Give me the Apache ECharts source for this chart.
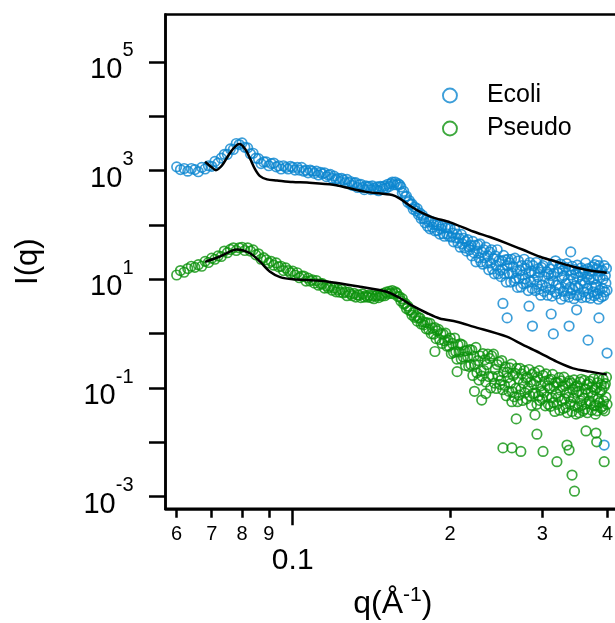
<!DOCTYPE html>
<html><head><meta charset="utf-8">
<script src="https://cdn.jsdelivr.net/npm/echarts@6/dist/echarts.min.js"></script>
<style>html,body{margin:0;padding:0;background:#fff}#c{width:615px;height:623px}</style>
</head><body><div id="c"></div>
<script>
// ---- data (q in 1/Å, I(q) intensities) ----
const q = [
0.060,0.061,0.062,0.063,0.064,0.065,0.066,0.067,0.068,0.069,
0.070,0.071,0.072,0.073,0.074,0.075,0.076,0.077,0.078,0.079,
0.080,0.081,0.082,0.083,0.084,0.085,0.086,0.087,0.088,0.089,
0.090,0.091,0.092,0.093,0.094,0.095,0.096,0.097,0.098,0.099,
0.100,0.101,0.102,0.103,0.104,0.105,0.106,0.107,0.108,0.109,
0.110,0.111,0.112,0.113,0.114,0.115,0.116,0.117,0.118,0.119,
0.120,0.121,0.122,0.123,0.124,0.125,0.126,0.127,0.128,0.129,
0.130,0.131,0.132,0.133,0.134,0.135,0.136,0.137,0.138,0.139,
0.140,0.141,0.142,0.143,0.144,0.145,0.146,0.147,0.148,0.149,
0.150,0.151,0.152,0.153,0.154,0.155,0.156,0.157,0.158,0.159,
0.160,0.161,0.162,0.163,0.164,0.165,0.166,0.167,0.168,0.169,
0.170,0.171,0.172,0.173,0.174,0.175,0.176,0.177,0.178,0.179,
0.180,0.181,0.182,0.183,0.184,0.185,0.186,0.187,0.188,0.189,
0.190,0.191,0.192,0.193,0.194,0.195,0.196,0.197,0.198,0.199,
0.200,0.201,0.202,0.203,0.204,0.205,0.206,0.207,0.208,0.209,
0.210,0.211,0.212,0.213,0.214,0.215,0.216,0.217,0.218,0.219,
0.220,0.221,0.222,0.223,0.224,0.225,0.226,0.227,0.228,0.229,
0.230,0.231,0.232,0.233,0.234,0.235,0.236,0.237,0.238,0.239,
0.240,0.241,0.242,0.243,0.244,0.245,0.246,0.247,0.248,0.249,
0.250,0.251,0.252,0.253,0.254,0.255,0.256,0.257,0.258,0.259,
0.260,0.261,0.262,0.263,0.264,0.265,0.266,0.267,0.268,0.269,
0.270,0.271,0.272,0.273,0.274,0.275,0.276,0.277,0.278,0.279,
0.280,0.281,0.282,0.283,0.284,0.285,0.286,0.287,0.288,0.289,
0.290,0.291,0.292,0.293,0.294,0.295,0.296,0.297,0.298,0.299,
0.300,0.301,0.302,0.303,0.304,0.305,0.306,0.307,0.308,0.309,
0.310,0.311,0.312,0.313,0.314,0.315,0.316,0.317,0.318,0.319,
0.320,0.321,0.322,0.323,0.324,0.325,0.326,0.327,0.328,0.329,
0.330,0.331,0.332,0.333,0.334,0.335,0.336,0.337,0.338,0.339,
0.340,0.341,0.342,0.343,0.344,0.345,0.346,0.347,0.348,0.349,
0.350,0.351,0.352,0.353,0.354,0.355,0.356,0.357,0.358,0.359,
0.360,0.361,0.362,0.363,0.364,0.365,0.366,0.367,0.368,0.369,
0.370,0.371,0.372,0.373,0.374,0.375,0.376,0.377,0.378,0.379,
0.380,0.381,0.382,0.383,0.384,0.385,0.386,0.387,0.388,0.389,
0.390,0.391,0.392,0.393,0.394,0.395,0.396,0.397,0.398,0.399
];
const ecoli = [
1175,1047,1096,977,1096,1047,955,1148,1072,1230,
1202,1479,1380,1698,1995,1995,2512,2455,3162,3020,
3236,2692,2630,2042,2089,1698,1660,1349,1445,1445,
1230,1349,1380,1175,1230,1072,1230,1148,1072,1202,
1148,1023,1148,1023,1148,977,1023,912,1023,977,
891,977,832,933,871,912,776,832,851,724,
794,692,724,631,724,676,603,692,603,631,
537,589,603,490,550,562,490,447,525,501,
513,447,525,479,447,501,427,513,501,468,
525,479,562,513,575,617,550,617,550,575,
550,501,389,417,331,339,263,282,240,245,
195,214,182,200,155,166,132,151,132,110,
129,95,115,85,117,91,102,78,102,79,
98,68,85,95,69,62,89,69,89,62,
87,60,71,49,84,58,68,47,57,39,
67,45,57,38,50,33,54,40,35,42,
27,50,31,42,21,33,43,25,45,21,
32,19,35,25,39,20,27,15,32,20,
35,15.5,24,12.6,27,17.8,35,12.6,22,14.5,
11.2,21.9,15.1,27.5,12.6,22.9,8.9,17.8,23.4,12.9,
20,8.9,23.4,12.9,17,9.3,24.5,10.5,14.1,7.1,
21.9,10.5,14.5,7.2,17.8,12,8.3,23.4,10.2,15.8,
8.5,18.2,6.2,13.2,20.4,9.1,14.1,6.8,17.8,9.8,
13.2,6.2,20.4,8.1,11,15.8,6.6,13.5,5.1,16.6,
7.9,17.8,6,11.2,20,7.1,13.8,5.1,12.3,8.7,
15.5,6.5,11.7,4.9,18.6,9.3,12.9,5.9,21.9,7.8,
5.4,13.5,7.9,15.8,6.8,19.1,4.3,10.7,14.5,6,
11.7,4.9,16.6,8.3,19.5,6.2,9.8,4.7,14.8,7.1,
5.5,12,17.4,6.5,10.2,4.4,15.1,7.6,12.9,5.1,
18.2,6.9,11,5.1,13.8,8.1,16.2,4.6,9.5,12.9,
5.9,14.8,8.5,20,4.7,11.2,6.8,15.8,5.4,10,
12.6,4.5,14.1,7.4,17,5.9,10,5,18.6,7.1,
7.9,15.8,5.4,11.7,4.3,17.8,6.3,10.7,14.1,4.7,
14.8,6.8,10,5,17.8,5.9,11.7,8.5,15.8,6.3
];
const pseudo = [
12,14.5,13.5,15.8,17.4,16.6,18.6,17.4,21.4,20.4,
24.5,23.4,26.9,26.3,33.1,30.9,35.5,38,33.9,38,
38.9,33.9,38,33.1,34.7,28.2,29.5,23.4,25.1,22.9,
20,21.4,18.2,20,17,17.4,14.5,16.2,14.5,13.2,
14.1,12,13.2,10.7,11.5,11.5,9.3,10.5,9.3,9.8,
8.5,9.5,7.8,8.3,8.3,6.9,7.6,6.9,7.4,6.3,
6.9,5.9,6.5,5.8,6.5,5.6,5.9,5,5.8,5.4,
5,5.5,4.7,5.2,5.1,4.6,5.4,4.7,5,4.7,
5.1,4.6,5,4.4,4.9,5.1,4.6,5.1,4.9,5.5,
5,5.8,5.4,6,5.5,6.2,5.4,5.9,5.6,4.8,
4.8,4,4.4,3.5,3.6,2.9,3.2,2.7,2.7,2.2,
2.45,2,2.14,1.7,1.95,1.95,1.51,1.66,1.45,1.62,
1.23,1.58,1.2,1.55,1,1.26,0.98,1.29,0.81,1.12,
1.2,0.78,1,0.66,0.98,0.74,1.02,0.59,0.76,0.59,
0.83,0.43,0.66,0.45,0.83,0.47,0.34,0.62,0.46,0.65,
0.34,0.62,0.37,0.48,0.26,0.49,0.38,0.25,0.51,0.27,
0.5,0.17,0.38,0.27,0.56,0.19,0.32,0.14,0.39,0.21,
0.166,0.43,0.21,0.33,0.129,0.27,0.42,0.162,0.35,0.1,
0.39,0.162,0.42,0.123,0.22,0.098,0.27,0.166,0.3,0.117,
0.138,0.32,0.093,0.195,0.112,0.245,0.072,0.195,0.155,0.087,
0.234,0.123,0.275,0.085,0.17,0.069,0.186,0.098,0.229,0.056,
0.148,0.074,0.229,0.095,0.182,0.059,0.123,0.209,0.081,0.151,
0.063,0.158,0.098,0.219,0.072,0.129,0.048,0.178,0.079,0.117,
0.195,0.081,0.135,0.05,0.158,0.071,0.209,0.059,0.11,0.087,
0.063,0.17,0.083,0.132,0.047,0.182,0.069,0.11,0.05,0.141,
0.1,0.046,0.145,0.066,0.178,0.054,0.107,0.037,0.126,0.079,
0.05,0.126,0.068,0.155,0.039,0.091,0.135,0.058,0.105,0.042,
0.158,0.063,0.11,0.044,0.081,0.035,0.123,0.068,0.135,0.05,
0.056,0.123,0.037,0.093,0.066,0.141,0.047,0.105,0.033,0.083,
0.11,0.044,0.087,0.035,0.129,0.058,0.145,0.048,0.076,0.038,
0.065,0.138,0.041,0.095,0.051,0.115,0.035,0.081,0.12,0.058,
0.132,0.052,0.083,0.039,0.105,0.071,0.148,0.047,0.093,0.033,
0.048,0.1,0.038,0.126,0.063,0.151,0.054,0.085,0.043,0.115,
0.091,0.046,0.145,0.058,0.107,0.038,0.12,0.068,0.158,0.05
];
// scattered outlying points
const ecoliExtraQ = [0.2523,0.257,0.283,0.2873,0.312,0.315,0.3376,0.349,0.367,0.385,0.399,0.394,0.340,0.382];
const ecoliExtraI = [3.6,1.95,3.2,1.38,2.3,0.99,1.38,2.75,0.76,1.95,0.44,0.0089,32,22];
const pseudoExtraQ = [0.2523,0.2625,0.273,0.293,0.301,0.320,0.3345,0.3376,0.342,0.3457,0.3637,0.380,0.394,0.2226,0.234,0.2675,0.2905,0.2062,0.187,0.2298,0.3812,0.3917,0.2624];
const pseudoExtraI = [0.0079,0.0079,0.0068,0.0141,0.0068,0.0044,0.0089,0.0072,0.0025,0.00126,0.0162,0.0148,0.0044,0.087,0.079,0.027,0.032,0.2,0.47,0.06,0.0102,0.041,0.056];
// model fits
const fitEcoliQ = [0.0680,0.0700,0.0713,0.0733,0.0752,0.0772,0.0790,0.0811,0.0829,0.0847,0.0866,0.0893,0.0933,0.1000,0.1065,0.1195,0.1380,0.1550,0.1600,0.1690,0.1760,0.1850,0.2000,0.2213,0.2382,0.2566,0.2756,0.2971,0.3196,0.3436,0.3700,0.3985];
const fitEcoliI = [1460,1150,1020,1260,1860,2630,3100,2510,1660,1070,794,692,661,617,603,550,407,355,309,214,170,138,112,76,60,46,35,26,21,17,14.5,13.2];
const fitPseudoQ = [0.0680,0.0726,0.0782,0.0829,0.0866,0.0905,0.0946,0.1001,0.1128,0.1345,0.1512,0.1604,0.1700,0.1804,0.1910,0.2058,0.2213,0.2566,0.2756,0.2971,0.3196,0.3436,0.3700,0.3985];
const fitPseudoI = [21,26.3,35.5,30.2,21.1,13.8,11,10,9.4,7.3,5.9,4.5,3.2,2.4,1.9,1.66,1.35,0.88,0.62,0.44,0.305,0.23,0.2,0.178];
// axes
const qRange = [0.05712, 0.4224];
const iRange = [5.98e-4, 7.48e5];
const xMinorTicks = [0.06,0.07,0.08,0.09,0.2,0.3,0.4];
const xMinorLabels = ['6','7','8','9','2','3','4'];
const xMajorTicks = [0.1];
const xMajorLabels = ['0.1'];
const yTickExp = [-3,-2,-1,0,1,2,3,4,5];
const yLabelExp = [-3,-1,1,3,5];
const seriesNames = ['Ecoli','Pseudo'];
const colors = ['#0b86d0','#0c920c'];

// ---- chart ----
const lg = Math.log10;
const FONT = '"Liberation Sans", Arial, sans-serif';
function pick(v, ticks, labels){
  let b = 0, d = Infinity;
  ticks.forEach((t,i)=>{ const e = Math.abs(lg(t)-v); if (e<d){d=e;b=i;} });
  return labels[b];
}
function pts(xs, ys){ return xs.map((x,i)=>[lg(x), lg(ys[i])]); }
const chart = echarts.init(document.getElementById('c'), null, {renderer:'canvas'});
const axisLineStyle = {color:'#000', width:2.5};
const scatterStyle = c => ({color:'rgba(0,0,0,0)', borderColor:c, borderWidth:1.7});
chart.setOption({
  animation:false,
  backgroundColor:'#fff',
  grid:{left:165.5, top:14.5, width:454.5, height:494.3, containLabel:false, outerBoundsMode:'none',
        show:true, borderColor:'#000', borderWidth:2.5, backgroundColor:'rgba(0,0,0,0)'},
  legend:{
    orient:'vertical', left:437, top:78, itemWidth:16, itemHeight:14, itemGap:8,
    textStyle:{fontSize:25, fontFamily:FONT, color:'#000', padding:[0,0,0,24], lineHeight:24},
    data: seriesNames.map((n,i)=>({name:n, icon:'circle', itemStyle:{color:'rgba(0,0,0,0)', borderColor:colors[i], borderWidth:1.9}}))
  },
  xAxis:[
    {type:'value', min:lg(qRange[0]), max:lg(qRange[1]), position:'bottom',
     axisLine:{show:true, onZero:false, lineStyle:axisLineStyle},
     axisTick:{show:true, customValues:xMinorTicks.map(lg), length:9, lineStyle:{color:'#000', width:2.5}},
     axisLabel:{customValues:xMinorTicks.map(lg), formatter:v=>pick(v,xMinorTicks,xMinorLabels), fontSize:20, fontFamily:FONT, color:'#000', margin:16},
     splitLine:{show:false}},
    {type:'value', min:lg(qRange[0]), max:lg(qRange[1]), position:'bottom',
     axisLine:{show:false, onZero:false},
     axisTick:{show:true, customValues:xMajorTicks.map(lg), length:16.5, lineStyle:{color:'#000', width:2.5}},
     axisLabel:{customValues:xMajorTicks.map(lg), formatter:v=>pick(v,xMajorTicks,xMajorLabels), fontSize:30, fontFamily:FONT, color:'#000', margin:37},
     splitLine:{show:false},
     name:'{a|q(Å}{s|-1}{a|)}', nameLocation:'middle', nameGap:76,
     nameTextStyle:{rich:{a:{fontSize:32, fontFamily:FONT, color:'#000'}, s:{fontSize:21, fontFamily:FONT, color:'#000', padding:[0,0,18,0]}}}}
  ],
  yAxis:{type:'value', min:lg(iRange[0]), max:lg(iRange[1]),
    axisLine:{show:true, onZero:false, lineStyle:axisLineStyle},
    axisTick:{show:true, customValues:yTickExp, length:16.5, lineStyle:{color:'#000', width:2.5}},
    axisLabel:{customValues:yLabelExp, margin:32, color:'#000',
      formatter:v=>'{b|10}{e|'+Math.round(v)+'}',
      rich:{b:{fontSize:29, fontFamily:FONT, color:'#000', padding:[16,0,0,0]}, e:{fontSize:20, fontFamily:FONT, color:'#000', padding:[0,0,22,0]}}},
    splitLine:{show:false},
    name:'I(q)', nameLocation:'middle', nameRotate:90, nameGap:122,
    nameTextStyle:{fontSize:31, fontFamily:FONT, color:'#000'}
  },
  series:[
    {name:seriesNames[0], type:'scatter', symbol:'circle', symbolSize:9.5, itemStyle:scatterStyle(colors[0]),
     data: pts(q, ecoli).concat(pts(ecoliExtraQ, ecoliExtraI))},
    {name:seriesNames[1], type:'scatter', symbol:'circle', symbolSize:9.5, itemStyle:scatterStyle(colors[1]),
     data: pts(q, pseudo).concat(pts(pseudoExtraQ, pseudoExtraI))},
    {name:'Ecoli fit', type:'line', showSymbol:false, smooth:0.3, lineStyle:{color:'#000', width:2.5}, data: pts(fitEcoliQ, fitEcoliI), z:5},
    {name:'Pseudo fit', type:'line', showSymbol:false, smooth:0.3, lineStyle:{color:'#000', width:2.5}, data: pts(fitPseudoQ, fitPseudoI), z:5}
  ]
});
</script></body></html>
